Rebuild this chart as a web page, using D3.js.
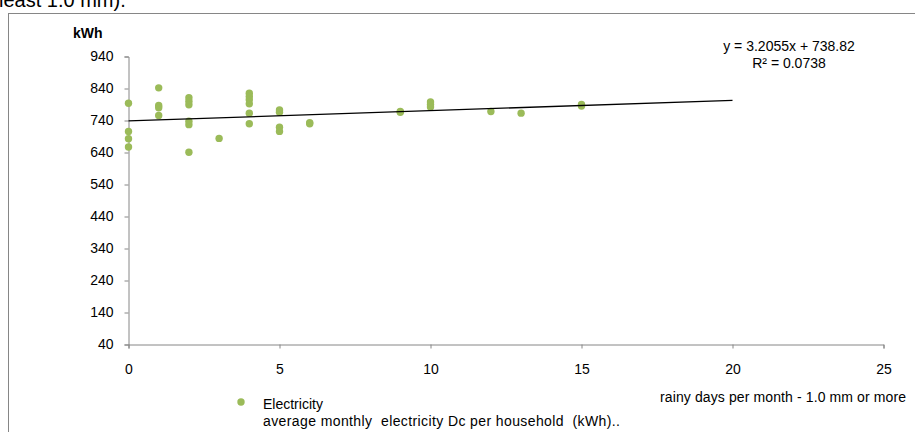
<!DOCTYPE html>
<html>
<head>
<meta charset="utf-8">
<script src="https://cdn.jsdelivr.net/npm/d3@7"></script>
<style>
  body{margin:0;background:#fff;}
  svg{display:block;font-family:"Liberation Sans",Arial,sans-serif;}
</style>
</head>
<body>
<svg id="chart" width="915" height="432"></svg>
<script>
"use strict";

// rainy days per month (x) and average monthly electricity per household in kWh (y)
const rainyDays = [0,0,0,0, 1,1,1,1, 2,2,2,2,2,2, 3, 4,4,4,4,4,4, 5,5,5,5, 6,6, 9,9, 10,10,10, 12, 13, 15,15]
const electricity = [794,706,683,657, 842,787,780,756, 811,800,789,738,727,641, 684, 825,815,805,792,763,730, 773,766,719,706, 733,730, 768,766, 798,790,782, 768, 763, 790,785]

const xTicks = [0,5,10,15,20,25]
const yTicks = [40,140,240,340,440,540,640,740,840,940]

// Excel linear trendline shown on the chart
const trendSlope = 3.2055
const trendIntercept = 738.82
const trendRange = [0,20]
const trendLabels = ["y = 3.2055x + 738.82","R² = 0.0738"]

const legendLines = ["Electricity","average monthly  electricity Dc per household  (kWh).."]

const axisColor = "#868686"
const dotColor = "#9bbb59"
const fontSize = 14

const svg = d3.select("#chart")

// caption above the chart, cut off by the frame
svg.append("text")
  .attr("x",-1).attr("y",7)
  .attr("font-size",20)
  .attr("fill","#000")
  .text("least 1.0 mm).")

// chart frame
svg.append("rect")
  .attr("x",8.5).attr("y",13.5)
  .attr("width",930).attr("height",440)
  .attr("fill","none")
  .attr("stroke",axisColor)

const x = d3.scaleLinear().domain([0,25]).range([128.5,883.5])
const y = d3.scaleLinear().domain([40,940]).range([344.5,56.5])

// y axis
const yAxis = svg.append("g")
  .attr("transform","translate("+x(0)+",0)")
  .call(d3.axisLeft(y).tickValues(yTicks).tickSize(4).tickPadding(11))
yAxis.select(".domain").attr("stroke",axisColor)
yAxis.selectAll(".tick line").attr("stroke",axisColor)
yAxis.selectAll(".tick text")
  .attr("font-size",fontSize)
  .attr("font-family","Liberation Sans, Arial, sans-serif")
  .attr("fill","#000")

// x axis
const xAxis = svg.append("g")
  .attr("transform","translate(0,"+y(40)+")")
  .call(d3.axisBottom(x).tickValues(xTicks).tickSize(4).tickPadding(16))
xAxis.select(".domain").attr("stroke",axisColor)
xAxis.selectAll(".tick line").attr("stroke",axisColor)
xAxis.selectAll(".tick text")
  .attr("font-size",fontSize)
  .attr("font-family","Liberation Sans, Arial, sans-serif")
  .attr("fill","#000")

// axis titles
svg.append("text")
  .attr("x",73).attr("y",38)
  .attr("font-size",14)
  .attr("font-weight","bold")
  .text("kWh")

svg.append("text")
  .attr("x",906).attr("y",402)
  .attr("text-anchor","end")
  .attr("font-size",fontSize)
  .attr("textLength",246)
  .attr("lengthAdjust","spacing")
  .text("rainy days per month - 1.0 mm or more")

// points
const points = rainyDays.map((d,i)=>({x:d, y:electricity[i]}))
svg.append("g").selectAll("circle").data(points).enter()
  .append("circle")
  .attr("cx",d=>x(d.x))
  .attr("cy",d=>y(d.y))
  .attr("r",3.7)
  .attr("fill",dotColor)

// trendline
svg.append("line")
  .attr("x1",x(trendRange[0]))
  .attr("y1",y(trendSlope*trendRange[0]+trendIntercept))
  .attr("x2",x(trendRange[1]))
  .attr("y2",y(trendSlope*trendRange[1]+trendIntercept))
  .attr("stroke","#000")
  .attr("stroke-width",1.3)

svg.append("g").selectAll("text").data(trendLabels).enter()
  .append("text")
  .attr("x",789)
  .attr("y",(d,i)=>51+i*17)
  .attr("text-anchor","middle")
  .attr("font-size",fontSize)
  .text(d=>d)

// legend
svg.append("circle")
  .attr("cx",241).attr("cy",402)
  .attr("r",3.7)
  .attr("fill",dotColor)

svg.append("g").selectAll("text").data(legendLines).enter()
  .append("text")
  .attr("x",263)
  .attr("y",(d,i)=>409+i*17)
  .attr("font-size",fontSize)
  .attr("xml:space","preserve")
  .style("white-space","pre")
  .each(function(d,i){
    if(i===1) d3.select(this).attr("textLength",357).attr("lengthAdjust","spacing")
  })
  .text(d=>d)
</script>
</body>
</html>
